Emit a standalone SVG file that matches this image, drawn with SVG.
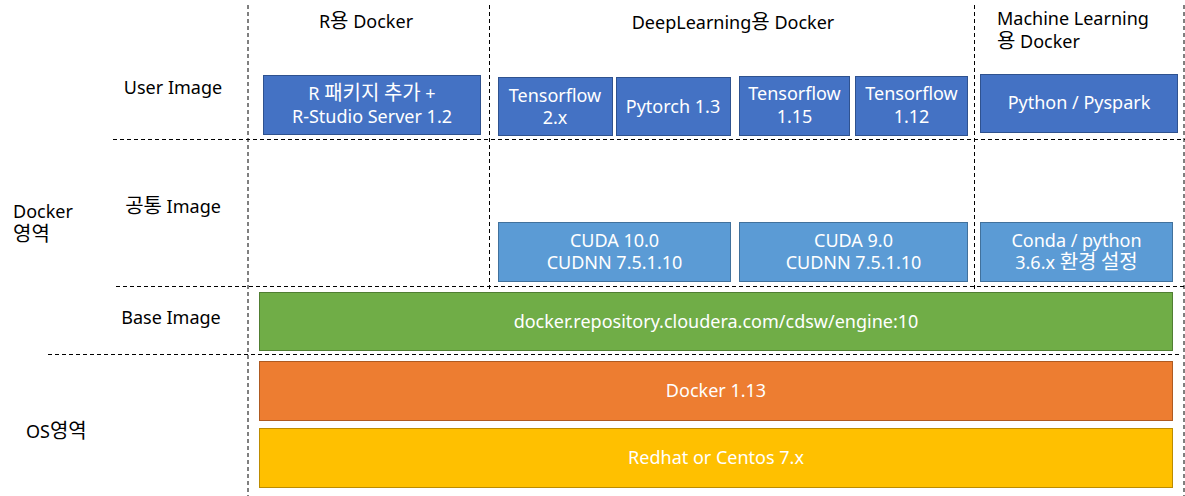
<svg xmlns="http://www.w3.org/2000/svg" width="1185" height="496" viewBox="0 0 1185 496">
<style>
text{font-family:"Noto Sans","Noto Sans CJK KR",sans-serif;font-size:18px}
.k{font-family:"Noto Sans CJK KR",sans-serif;font-size:20px}
.lbl{fill:#000}
.w{fill:#fff;text-anchor:middle}
.c{text-anchor:middle}
.dash{stroke:#000;stroke-width:1;stroke-dasharray:4 3;fill:none}
.b1{fill:#4472C4;stroke:#2F528F;stroke-width:1}
.b2{fill:#5B9BD5;stroke:#41719C;stroke-width:1}
.g{fill:#70AD47;stroke:#507E32;stroke-width:1}
.o{fill:#ED7D31;stroke:#AE5A21;stroke-width:1}
.y{fill:#FFC000;stroke:#BC8C00;stroke-width:1}
</style>
<rect width="1185" height="496" fill="#fff"/>
<g id="connectors">
<line class="dash" x1="248" y1="5" x2="248" y2="496"/>
<line class="dash" x1="489.5" y1="5" x2="489.5" y2="289"/>
<line class="dash" x1="974.5" y1="5" x2="974.5" y2="289"/>
<line class="dash" x1="1184" y1="5" x2="1184" y2="496"/>
<line class="dash" x1="113" y1="139.5" x2="1185" y2="139.5"/>
<line class="dash" x1="116" y1="286.5" x2="1185" y2="286.5"/>
<line class="dash" x1="48" y1="354.5" x2="1180" y2="354.5"/>
</g>
<g id="labels">
<text class="lbl c" x="366" y="28">R<tspan class="k">용</tspan> Docker</text>
<text class="lbl c" x="733" y="29">DeepLearning<tspan class="k">용</tspan> Docker</text>
<text class="lbl" x="997" y="25">Machine Learning</text>
<text class="lbl" x="997" y="48"><tspan class="k">용</tspan> Docker</text>
<text class="lbl c" x="173" y="94">User Image</text>
<text class="lbl c" x="173" y="213"><tspan class="k">공통</tspan> Image</text>
<text class="lbl c" x="171" y="324">Base Image</text>
<text class="lbl" x="13" y="218">Docker</text>
<text class="lbl" x="13" y="241"><tspan class="k">영역</tspan></text>
<text class="lbl" x="26" y="438">OS<tspan class="k">영역</tspan></text>
</g>
<g id="node-r"><rect class="b1" x="263.5" y="75.5" width="217" height="59"/><text class="w" x="372" y="100">R <tspan class="k">패키지 추가</tspan> +</text><text class="w" x="372" y="123">R-Studio Server 1.2</text></g>
<g id="node-tf2"><rect class="b1" x="498.5" y="77.5" width="114" height="58"/><text class="w" x="555" y="102">Tensorflow</text><text class="w" x="555" y="124">2.x</text></g>
<g id="node-pytorch"><rect class="b1" x="616.5" y="77.5" width="114" height="58"/><text class="w" x="673" y="113">Pytorch 1.3</text></g>
<g id="node-tf115"><rect class="b1" x="739.5" y="76.5" width="110" height="59"/><text class="w" x="794.5" y="100">Tensorflow</text><text class="w" x="794.5" y="123">1.15</text></g>
<g id="node-tf112"><rect class="b1" x="855.5" y="76.5" width="112" height="59"/><text class="w" x="911.5" y="100">Tensorflow</text><text class="w" x="911.5" y="123">1.12</text></g>
<g id="node-pyspark"><rect class="b1" x="980.5" y="74.5" width="197" height="58"/><text class="w" x="1079" y="109">Python / Pyspark</text></g>
<g id="node-cuda10"><rect class="b2" x="498.5" y="222.5" width="232" height="59"/><text class="w" x="614.5" y="247">CUDA 10.0</text><text class="w" x="614.5" y="269">CUDNN 7.5.1.10</text></g>
<g id="node-cuda9"><rect class="b2" x="739.5" y="222.5" width="228" height="59"/><text class="w" x="853.5" y="247">CUDA 9.0</text><text class="w" x="853.5" y="269">CUDNN 7.5.1.10</text></g>
<g id="node-conda"><rect class="b2" x="980.5" y="222.5" width="192" height="59"/><text class="w" x="1076.5" y="247">Conda / python</text><text class="w" x="1076.5" y="269">3.6.x <tspan class="k">환경 설정</tspan></text></g>
<g id="node-base"><rect class="g" x="259.5" y="292.5" width="913" height="58"/><text class="w" x="716" y="328">docker.repository.cloudera.com/cdsw/engine:10</text></g>
<g id="node-docker"><rect class="o" x="259.5" y="361.5" width="913" height="59"/><text class="w" x="716" y="397">Docker 1.13</text></g>
<g id="node-os"><rect class="y" x="259.5" y="428.5" width="913" height="59"/><text class="w" x="716" y="464">Redhat or Centos 7.x</text></g>
</svg>
